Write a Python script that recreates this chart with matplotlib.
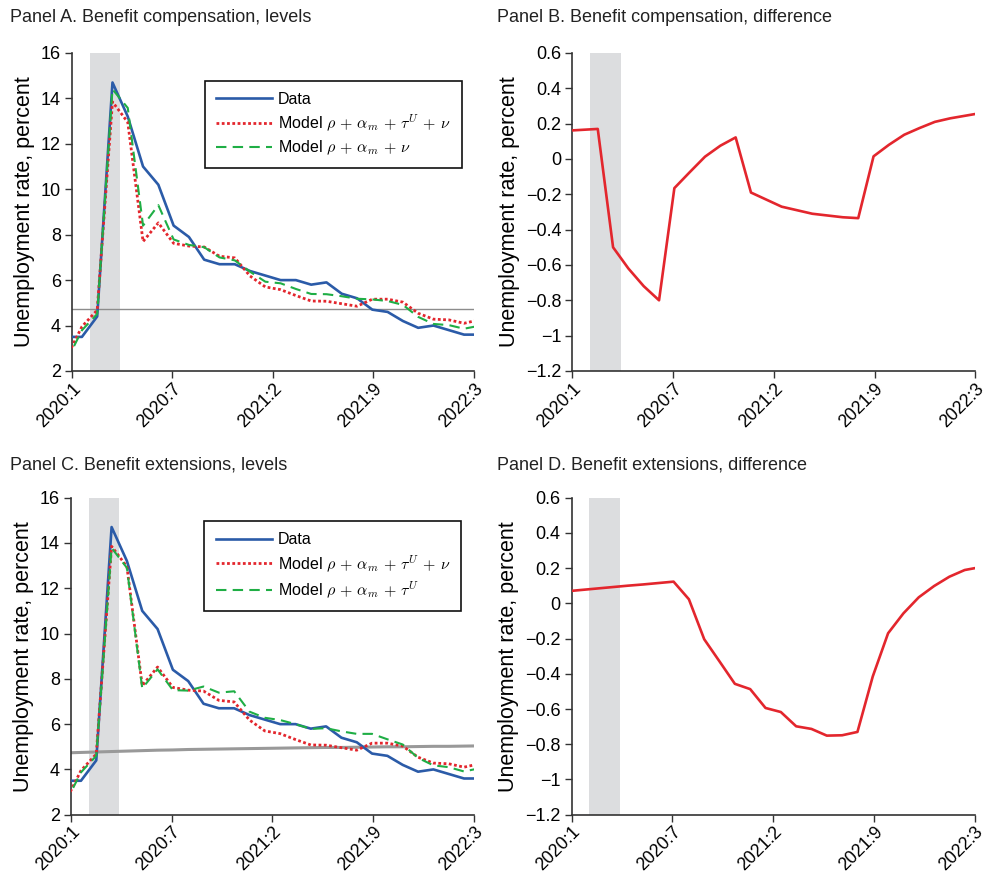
import numpy as np
import matplotlib
matplotlib.use("Agg")
import matplotlib.pyplot as plt

plt.rcParams['font.family'] = ['Liberation Sans', 'DejaVu Sans']
plt.rcParams['mathtext.fontset'] = 'cm'

# monthly, 2020:1 .. 2022:4 (first and last month fall just outside the axis)
months = np.arange(28)
tick_labels = ["2020:1", "2020:7", "2021:2", "2021:9", "2022:3"]
recession = (1.5, 3.5)

data_u = [3.5, 3.5, 4.4, 14.7, 13.2, 11.0, 10.2, 8.4, 7.9, 6.9, 6.7, 6.7, 6.4, 6.2,
          6.0, 6.0, 5.8, 5.9, 5.4, 5.2, 4.7, 4.6, 4.2, 3.9, 4.0, 3.8, 3.6, 3.6]
model_full = [2.6, 3.95, 4.68, 13.85, 12.95, 7.7, 8.52, 7.62, 7.5, 7.46, 7.05, 6.98, 6.18, 5.7,
              5.58, 5.32, 5.08, 5.07, 4.96, 4.85, 5.16, 5.16, 5.03, 4.54, 4.28, 4.25, 4.1, 4.25]
model_no_tauU = [2.44, 3.79, 4.51, 14.4, 13.58, 8.4, 9.3, 7.79, 7.55, 7.45, 7.0, 6.87, 6.37, 5.93,
                 5.86, 5.61, 5.39, 5.38, 5.29, 5.18, 5.15, 5.08, 4.91, 4.38, 4.07, 4.02, 3.86, 3.99]
model_no_nu = [2.53, 3.87, 4.6, 13.78, 12.9, 7.58, 8.42, 7.5, 7.48, 7.66, 7.39, 7.45, 6.55, 6.28,
               6.18, 6.0, 5.79, 5.82, 5.68, 5.57, 5.57, 5.33, 5.1, 4.51, 4.18, 4.1, 3.91, 4.05]
diff_comp = [0.16, 0.165, 0.17, -0.50, -0.62, -0.72, -0.80, -0.165, -0.075, 0.013, 0.075, 0.122,
             -0.19, -0.23, -0.27, -0.29, -0.31, -0.32, -0.33, -0.335, 0.015, 0.08, 0.137, 0.175,
             0.21, 0.23, 0.245, 0.26]
diff_ext = [0.068, 0.076, 0.084, 0.092, 0.10, 0.107, 0.115, 0.123, 0.023, -0.204, -0.33, -0.457,
            -0.487, -0.594, -0.617, -0.698, -0.713, -0.751, -0.749, -0.73, -0.415, -0.17, -0.057,
            0.034, 0.098, 0.151, 0.189, 0.205]
natural_a = 4.72
natural_c = [4.73, 4.75, 4.77, 4.79, 4.81, 4.83, 4.85, 4.86, 4.88, 4.89, 4.90, 4.91, 4.92, 4.93,
             4.94, 4.95, 4.96, 4.97, 4.97, 4.98, 4.99, 5.00, 5.00, 5.01, 5.02, 5.02, 5.03, 5.04]

XLIM = (0.35, 26.65)
BLUE = '#2b5ba8'
RED = '#e3262d'
GREEN = '#1fae45'
SHADE = '#dcdddf'

fig = plt.figure(figsize=(9.86, 8.77), dpi=100)


def style(ax, ylim, yticks, ylabels):
  ax.axvspan(*recession, color=SHADE, lw=0, zorder=0)
  ax.set_xlim(*XLIM)
  ax.set_ylim(*ylim)
  ax.set_xticks(np.linspace(XLIM[0], XLIM[1], 5))
  ax.set_xticklabels(tick_labels, rotation=45, ha='right', va='top',
                     rotation_mode='anchor', fontsize=12.8)
  ax.set_yticks(yticks)
  ax.set_yticklabels(ylabels, fontsize=13)
  for s in ('top', 'right'):
    ax.spines[s].set_visible(False)
  for s in ('left', 'bottom'):
    ax.spines[s].set_color('#333333')
    ax.spines[s].set_linewidth(1.2)
  ax.tick_params(direction='out', length=5, width=1, color='#333333', pad=3)
  ax.tick_params(axis='x', pad=1.5)
  ax.set_ylabel("Unemployment rate, percent", fontsize=15.5, labelpad=4)


def levels(rect, green, green_label, natural, natural_lw):
  ax = fig.add_axes(rect)
  style(ax, (2, 16), np.arange(2, 17, 2), [str(v) for v in range(2, 17, 2)])
  if np.ndim(natural) == 0:
    ax.axhline(natural, color='#8c8c8c', lw=natural_lw, zorder=1)
  else:
    ax.plot(months, natural, color='#999999', lw=natural_lw, zorder=1)
  ax.plot(months, data_u, color=BLUE, lw=1.9, label="Data", zorder=3)
  ax.plot(months, model_full, color=RED, lw=2.0, ls=(0, (1.0, 0.9)),
          label=r"Model $\rho\,+\,\alpha_m\,+\,\tau^U\,+\,\nu$", zorder=4)
  ax.plot(months, green, color=GREEN, lw=1.5, ls=(0, (5, 3)), label=green_label, zorder=5)
  return ax


def fmt(v):
  v = round(float(v), 1) + 0.0
  if v == 0:
    return "0"
  return ("%g" % v).replace("-", "\u2212")


def difference(rect, diff):
  ax = fig.add_axes(rect)
  yt = np.round(np.arange(-1.2, 0.61, 0.2), 1)
  style(ax, (-1.2, 0.6), yt, [fmt(v) for v in yt])
  ax.plot(months, diff, color=RED, lw=1.9, zorder=3)
  return ax


axA = levels([0.0730, 0.5770, 0.4077, 0.3626], model_no_tauU,
             r"Model $\rho\,+\,\alpha_m\,+\,\nu$", natural_a, 1.0)
axB = difference([0.5806, 0.5770, 0.4087, 0.3626], diff_comp)
axC = levels([0.0720, 0.0710, 0.4087, 0.3616], model_no_nu,
             r"Model $\rho\,+\,\alpha_m\,+\,\tau^U$", natural_c, 2.2)
axD = difference([0.5798, 0.0710, 0.4087, 0.3616], diff_ext)

for ax, anchor in ((axA, (0.969, 0.913)), (axC, (0.969, 0.926))):
  leg = ax.legend(loc='upper right', bbox_to_anchor=anchor, fontsize=11.5,
                  handlelength=3.5, handletextpad=0.4, borderpad=0.7,
                  labelspacing=0.35, fancybox=False, framealpha=1,
                  edgecolor='#111111', borderaxespad=0)
  leg.get_frame().set_linewidth(1.2)

titles = [("Panel A. Benefit compensation, levels", 10, 17),
          ("Panel B. Benefit compensation, difference", 497, 17),
          ("Panel C. Benefit extensions, levels", 10, 465),
          ("Panel D. Benefit extensions, difference", 497, 465)]
for text, px, py in titles:
  fig.text(px / 986, 1 - py / 877, text, fontsize=13, ha='left', va='center', color='#222222')

fig.savefig("out.png", dpi=100)
